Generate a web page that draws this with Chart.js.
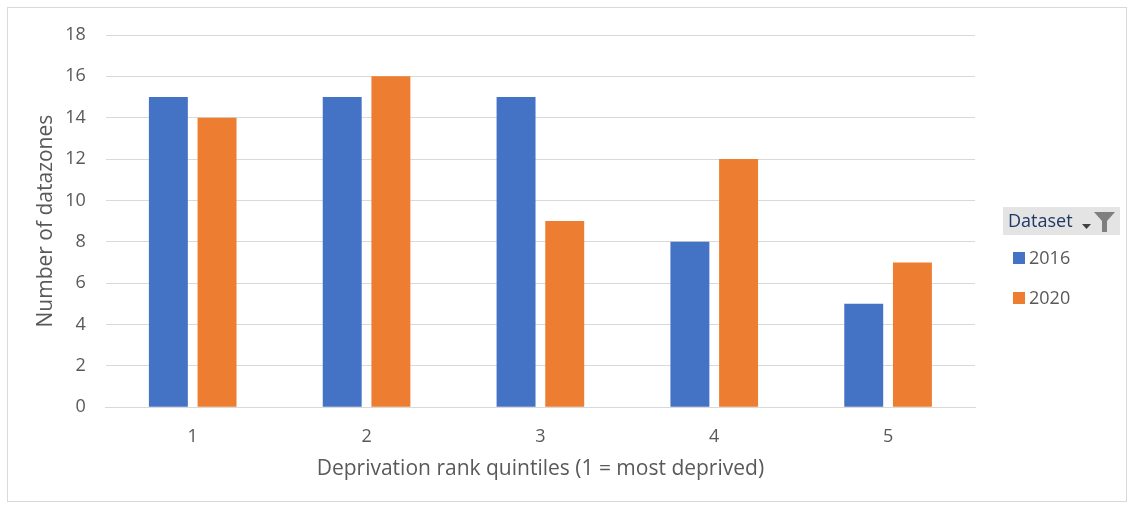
<!DOCTYPE html>
<html>
<head>
<meta charset="utf-8">
<script src="https://cdn.jsdelivr.net/npm/chart.js@4/dist/chart.umd.min.js"></script>
<style>
  html, body { margin: 0; padding: 0; background: #fff; }
  #frame { position: absolute; left: 7px; top: 7px; width: 1120px; height: 495px;
           border: 1px solid #d9d9d9; box-sizing: border-box; }
  #wrap { position: absolute; left: 0; top: 0; width: 1132px; height: 506px; }
</style>
</head>
<body>
<div id="frame"></div>
<div id="wrap"><canvas id="c" width="1132" height="506"></canvas></div>
<script>
const categories = ['1', '2', '3', '4', '5'];
const series2016 = [15, 15, 15, 8, 5];
const series2020 = [14, 16, 9, 12, 7];
const seriesNames = ['2016', '2020'];
const seriesColors = ['#4472c4', '#ed7d31'];
const legendTitle = 'Dataset';

const FONT = "'Open Sans', 'Liberation Sans', sans-serif";
const GREY = '#595959';

// Pivot-style legend with a "Dataset" header box and a filter glyph
const pivotLegend = {
  id: 'pivotLegend',
  afterDraw(chart) {
    const ctx = chart.ctx;
    const x0 = 1003, y0 = 207, w = 117, h = 28;
    ctx.save();
    ctx.fillStyle = '#e4e4e4';
    ctx.fillRect(x0, y0, w, h);
    ctx.fillStyle = '#1f3864';
    ctx.font = '18px ' + FONT;
    ctx.textBaseline = 'middle';
    ctx.textAlign = 'left';
    ctx.fillText(legendTitle, x0 + 5, y0 + h / 2 + 1);
    // dropdown arrow
    ctx.fillStyle = '#404040';
    ctx.beginPath();
    ctx.moveTo(x0 + 79, y0 + 17);
    ctx.lineTo(x0 + 88, y0 + 17);
    ctx.lineTo(x0 + 83.5, y0 + 22);
    ctx.closePath();
    ctx.fill();
    // funnel
    ctx.fillStyle = '#7f7f7f';
    ctx.beginPath();
    ctx.moveTo(x0 + 91, y0 + 5);
    ctx.lineTo(x0 + 112, y0 + 5);
    ctx.lineTo(x0 + 104, y0 + 14);
    ctx.lineTo(x0 + 104, y0 + 25);
    ctx.lineTo(x0 + 99, y0 + 25);
    ctx.lineTo(x0 + 99, y0 + 14);
    ctx.closePath();
    ctx.fill();
    // entries
    chart.data.datasets.forEach((ds, i) => {
      const yy = 258 + i * 40;
      ctx.fillStyle = ds.backgroundColor;
      ctx.fillRect(1013, yy - 6, 12, 12);
      ctx.fillStyle = GREY;
      ctx.font = '18px ' + FONT;
      ctx.fillText(ds.label, 1029, yy + 1);
    });
    ctx.restore();
  }
};

new Chart(document.getElementById('c'), {
  type: 'bar',
  data: {
    labels: categories,
    datasets: [
      { label: seriesNames[0], data: series2016, backgroundColor: seriesColors[0] },
      { label: seriesNames[1], data: series2020, backgroundColor: seriesColors[1] }
    ]
  },
  options: {
    responsive: false,
    animation: false,
    devicePixelRatio: 1,
    categoryPercentage: 0.56,
    barPercentage: 0.8,
    layout: { padding: { left: 30, right: 157, top: 35, bottom: 23 } },
    plugins: { legend: { display: false }, tooltip: { enabled: false } },
    scales: {
      x: {
        grid: { display: false, drawTicks: false },
        border: { color: '#d9d9d9', width: 1 },
        ticks: { color: GREY, font: { family: FONT, size: 18 }, padding: 19 },
        title: { display: true, text: 'Deprivation rank quintiles (1 = most deprived)',
                 color: GREY, font: { family: FONT, size: 21 }, padding: { top: -10, bottom: 1 } }
      },
      y: {
        min: 0, max: 18,
        ticks: { stepSize: 2, color: GREY, font: { family: FONT, size: 18 }, padding: 20 },
        grid: { color: '#d9d9d9', drawTicks: false },
        border: { display: false },
        title: { display: true, text: 'Number of datazones', color: GREY,
                 font: { family: FONT, size: 21 }, padding: { top: 3, bottom: -13 } }
      }
    }
  },
  plugins: [pivotLegend]
});
</script>
</body>
</html>
